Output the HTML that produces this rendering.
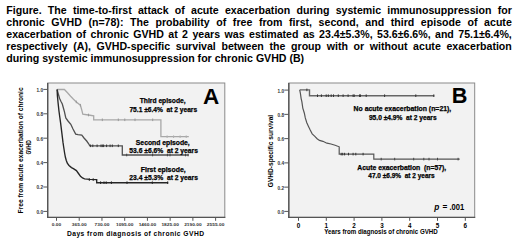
<!DOCTYPE html>
<html><head><meta charset="utf-8"><style>
html,body{margin:0;padding:0;background:#fff;}
body{width:520px;height:245px;position:relative;overflow:hidden;font-family:'Liberation Sans',sans-serif;color:#000;}
svg text{font-family:'Liberation Sans',sans-serif;}
.hv{stroke:#000;stroke-width:0.25px;}
</style></head><body>
<div style="position:absolute;left:6.3px;top:3.60px;width:505.5px;font-size:10.6px;line-height:12.1px;font-weight:bold;text-align:justify;text-align-last:justify;">Figure. The time-to-first attack of acute exacerbation during systemic immunosuppression for</div>
<div style="position:absolute;left:6.3px;top:15.70px;width:505.5px;font-size:10.6px;line-height:12.1px;font-weight:bold;text-align:justify;text-align-last:justify;">chronic GVHD (n=78): The probability of free from first, second, and third episode of acute</div>
<div style="position:absolute;left:6.3px;top:27.80px;width:505.5px;font-size:10.6px;line-height:12.1px;font-weight:bold;text-align:justify;text-align-last:justify;">exacerbation of chronic GVHD at 2 years was estimated as 23.4±5.3%, 53.6±6.6%, and 75.1±6.4%,</div>
<div style="position:absolute;left:6.3px;top:39.90px;width:505.5px;font-size:10.6px;line-height:12.1px;font-weight:bold;text-align:justify;text-align-last:justify;">respectively (A), GVHD-specific survival between the group with or without acute exacerbation</div>
<div style="position:absolute;left:6.3px;top:52.00px;width:505.5px;font-size:10.6px;line-height:12.1px;font-weight:bold;white-space:nowrap;text-align:left;">during systemic immunosuppression for chronic GVHD (B)</div>
<svg width="520" height="245" viewBox="0 0 520 245" style="position:absolute;left:0;top:0" font-family="Liberation Sans, sans-serif">
<rect x="47.7" y="83.0" width="177.10000000000002" height="134.4" fill="#f2f2f2" stroke="#8a8a8a" stroke-width="1"/>
<line x1="47.70" y1="83.00" x2="47.70" y2="217.90" stroke="#555555" stroke-width="1.4"/>
<line x1="47.20" y1="217.40" x2="225.30" y2="217.40" stroke="#555555" stroke-width="1.3"/>
<line x1="43.30" y1="211.40" x2="47.70" y2="211.40" stroke="#555555" stroke-width="1"/>
<text x="43.00" y="213.80" font-size="4.7" font-weight="bold" text-anchor="end" fill="#333" >0.0</text>
<line x1="43.30" y1="187.00" x2="47.70" y2="187.00" stroke="#555555" stroke-width="1"/>
<text x="43.00" y="189.40" font-size="4.7" font-weight="bold" text-anchor="end" fill="#333" >0.2</text>
<line x1="43.30" y1="162.60" x2="47.70" y2="162.60" stroke="#555555" stroke-width="1"/>
<text x="43.00" y="165.00" font-size="4.7" font-weight="bold" text-anchor="end" fill="#333" >0.4</text>
<line x1="43.30" y1="138.20" x2="47.70" y2="138.20" stroke="#555555" stroke-width="1"/>
<text x="43.00" y="140.60" font-size="4.7" font-weight="bold" text-anchor="end" fill="#333" >0.6</text>
<line x1="43.30" y1="113.80" x2="47.70" y2="113.80" stroke="#555555" stroke-width="1"/>
<text x="43.00" y="116.20" font-size="4.7" font-weight="bold" text-anchor="end" fill="#333" >0.8</text>
<line x1="43.30" y1="89.40" x2="47.70" y2="89.40" stroke="#555555" stroke-width="1"/>
<text x="43.00" y="91.80" font-size="4.7" font-weight="bold" text-anchor="end" fill="#333" >1.0</text>
<line x1="56.50" y1="217.40" x2="56.50" y2="220.80" stroke="#555555" stroke-width="1"/>
<text x="56.50" y="226.30" font-size="4.3" font-weight="bold" text-anchor="middle" fill="#333" textLength="9.40" lengthAdjust="spacingAndGlyphs">0.00</text>
<line x1="79.23" y1="217.40" x2="79.23" y2="220.80" stroke="#555555" stroke-width="1"/>
<text x="79.23" y="226.30" font-size="4.3" font-weight="bold" text-anchor="middle" fill="#333" textLength="14.77" lengthAdjust="spacingAndGlyphs">365.00</text>
<line x1="101.96" y1="217.40" x2="101.96" y2="220.80" stroke="#555555" stroke-width="1"/>
<text x="101.96" y="226.30" font-size="4.3" font-weight="bold" text-anchor="middle" fill="#333" textLength="14.77" lengthAdjust="spacingAndGlyphs">730.00</text>
<line x1="124.69" y1="217.40" x2="124.69" y2="220.80" stroke="#555555" stroke-width="1"/>
<text x="124.69" y="226.30" font-size="4.3" font-weight="bold" text-anchor="middle" fill="#333" textLength="17.46" lengthAdjust="spacingAndGlyphs">1095.00</text>
<line x1="147.42" y1="217.40" x2="147.42" y2="220.80" stroke="#555555" stroke-width="1"/>
<text x="147.42" y="226.30" font-size="4.3" font-weight="bold" text-anchor="middle" fill="#333" textLength="17.46" lengthAdjust="spacingAndGlyphs">1460.00</text>
<line x1="170.15" y1="217.40" x2="170.15" y2="220.80" stroke="#555555" stroke-width="1"/>
<text x="170.15" y="226.30" font-size="4.3" font-weight="bold" text-anchor="middle" fill="#333" textLength="17.46" lengthAdjust="spacingAndGlyphs">1825.00</text>
<line x1="192.88" y1="217.40" x2="192.88" y2="220.80" stroke="#555555" stroke-width="1"/>
<text x="192.88" y="226.30" font-size="4.3" font-weight="bold" text-anchor="middle" fill="#333" textLength="17.46" lengthAdjust="spacingAndGlyphs">2190.00</text>
<line x1="215.61" y1="217.40" x2="215.61" y2="220.80" stroke="#555555" stroke-width="1"/>
<text x="215.61" y="226.30" font-size="4.3" font-weight="bold" text-anchor="middle" fill="#333" textLength="17.46" lengthAdjust="spacingAndGlyphs">2555.00</text>
<text transform="translate(22.9,150.4) rotate(-90)" font-size="6.6" font-weight="bold" text-anchor="middle" textLength="126" lengthAdjust="spacingAndGlyphs">Free from acute exacerbation of chronic</text>
<text transform="translate(31.0,147.4) rotate(-90)" font-size="6.6" font-weight="bold" text-anchor="middle" textLength="14.2" lengthAdjust="spacingAndGlyphs">GVHD</text>
<text x="66.90" y="235.80" font-size="6.7" font-weight="bold" text-anchor="start" fill="#000" textLength="137.2" lengthAdjust="spacing">Days from diagnosis of chronic GVHD</text>
<polyline points="57.10,89.50 64.40,89.50 67.50,92.80 70.60,96.20 73.50,99.20 76.30,101.90 80.40,105.20 81.20,108.00 82.00,110.90 82.80,114.20 88.50,115.00 93.70,115.80 93.70,119.80 160.90,119.80 160.90,136.70 188.80,136.70" fill="none" stroke="#a8a8a8" stroke-width="1.3" stroke-linejoin="miter"/>
<polyline points="57.10,89.50 58.30,94.00 59.60,98.50 61.00,101.50 62.30,104.00 63.40,108.00 64.40,111.70 65.80,118.00 68.00,121.00 70.80,124.30 73.00,129.00 75.70,134.10 78.00,134.60 81.80,135.20 84.00,138.00 86.70,141.00 88.50,143.50 89.80,145.80 122.30,145.80 122.30,155.00 188.60,155.00" fill="none" stroke="#505050" stroke-width="1.3" stroke-linejoin="miter"/>
<polyline points="57.10,89.50 57.40,95.80 58.10,103.00 58.90,110.50 59.70,116.50 60.60,122.80 61.80,132.60 63.00,142.40 63.60,146.50 64.60,153.00 65.40,157.30 66.30,160.50 67.30,163.20 69.00,165.50 71.50,167.60 73.40,168.60 76.40,170.60 78.50,173.50 80.50,176.30 82.50,178.00 84.60,178.80 89.70,179.40 96.70,179.60 96.70,182.70 168.20,182.70" fill="none" stroke="#262626" stroke-width="1.35" stroke-linejoin="miter"/>
<line x1="89.30" y1="178.30" x2="89.30" y2="180.90" stroke="#222222" stroke-width="1.0"/>
<line x1="93.20" y1="178.30" x2="93.20" y2="180.90" stroke="#222222" stroke-width="1.0"/>
<line x1="100.60" y1="181.40" x2="100.60" y2="184.00" stroke="#222222" stroke-width="1.0"/>
<line x1="104.00" y1="181.40" x2="104.00" y2="184.00" stroke="#222222" stroke-width="1.0"/>
<line x1="106.20" y1="181.40" x2="106.20" y2="184.00" stroke="#222222" stroke-width="1.0"/>
<line x1="111.40" y1="181.40" x2="111.40" y2="184.00" stroke="#222222" stroke-width="1.0"/>
<line x1="127.00" y1="181.40" x2="127.00" y2="184.00" stroke="#222222" stroke-width="1.0"/>
<line x1="152.30" y1="181.40" x2="152.30" y2="184.00" stroke="#222222" stroke-width="1.0"/>
<line x1="167.70" y1="181.40" x2="167.70" y2="184.00" stroke="#222222" stroke-width="1.0"/>
<line x1="90.60" y1="144.50" x2="90.60" y2="147.10" stroke="#333333" stroke-width="1.0"/>
<line x1="92.80" y1="144.50" x2="92.80" y2="147.10" stroke="#333333" stroke-width="1.0"/>
<line x1="97.10" y1="144.50" x2="97.10" y2="147.10" stroke="#333333" stroke-width="1.0"/>
<line x1="101.00" y1="144.50" x2="101.00" y2="147.10" stroke="#333333" stroke-width="1.0"/>
<line x1="102.30" y1="144.50" x2="102.30" y2="147.10" stroke="#333333" stroke-width="1.0"/>
<line x1="103.60" y1="144.50" x2="103.60" y2="147.10" stroke="#333333" stroke-width="1.0"/>
<line x1="106.60" y1="144.50" x2="106.60" y2="147.10" stroke="#333333" stroke-width="1.0"/>
<line x1="110.10" y1="144.50" x2="110.10" y2="147.10" stroke="#333333" stroke-width="1.0"/>
<line x1="112.30" y1="144.50" x2="112.30" y2="147.10" stroke="#333333" stroke-width="1.0"/>
<line x1="118.30" y1="144.50" x2="118.30" y2="147.10" stroke="#333333" stroke-width="1.0"/>
<line x1="126.70" y1="153.70" x2="126.70" y2="156.30" stroke="#444444" stroke-width="1.0"/>
<line x1="152.60" y1="153.70" x2="152.60" y2="156.30" stroke="#444444" stroke-width="1.0"/>
<line x1="167.40" y1="153.70" x2="167.40" y2="156.30" stroke="#444444" stroke-width="1.0"/>
<line x1="170.00" y1="153.70" x2="170.00" y2="156.30" stroke="#444444" stroke-width="1.0"/>
<line x1="185.50" y1="153.70" x2="185.50" y2="156.30" stroke="#444444" stroke-width="1.0"/>
<line x1="188.10" y1="153.70" x2="188.10" y2="156.30" stroke="#444444" stroke-width="1.0"/>
<line x1="102.30" y1="118.50" x2="102.30" y2="121.10" stroke="#999999" stroke-width="1.0"/>
<line x1="118.30" y1="118.50" x2="118.30" y2="121.10" stroke="#999999" stroke-width="1.0"/>
<line x1="124.80" y1="118.50" x2="124.80" y2="121.10" stroke="#999999" stroke-width="1.0"/>
<line x1="135.00" y1="118.50" x2="135.00" y2="121.10" stroke="#999999" stroke-width="1.0"/>
<line x1="152.70" y1="118.50" x2="152.70" y2="121.10" stroke="#999999" stroke-width="1.0"/>
<line x1="76.30" y1="100.60" x2="76.30" y2="103.20" stroke="#999999" stroke-width="1.0"/>
<line x1="80.40" y1="103.90" x2="80.40" y2="106.50" stroke="#999999" stroke-width="1.0"/>
<line x1="88.50" y1="113.70" x2="88.50" y2="116.30" stroke="#999999" stroke-width="1.0"/>
<line x1="167.10" y1="135.40" x2="167.10" y2="138.00" stroke="#b0b0b0" stroke-width="1.0"/>
<line x1="173.60" y1="135.40" x2="173.60" y2="138.00" stroke="#b0b0b0" stroke-width="1.0"/>
<line x1="180.10" y1="135.40" x2="180.10" y2="138.00" stroke="#b0b0b0" stroke-width="1.0"/>
<line x1="186.20" y1="135.40" x2="186.20" y2="138.00" stroke="#b0b0b0" stroke-width="1.0"/>
<text class="hv" x="162.70" y="103.30" font-size="7" font-weight="bold" text-anchor="middle" fill="#000" textLength="46" lengthAdjust="spacingAndGlyphs">Third episode,</text>
<text class="hv" x="163.30" y="111.50" font-size="7" font-weight="bold" text-anchor="middle" fill="#000" textLength="67.7" lengthAdjust="spacingAndGlyphs">75.1 ±6.4%  at 2 years</text>
<text class="hv" x="162.80" y="144.70" font-size="7" font-weight="bold" text-anchor="middle" fill="#000" textLength="53.9" lengthAdjust="spacingAndGlyphs">Second episode,</text>
<text class="hv" x="163.60" y="152.80" font-size="7" font-weight="bold" text-anchor="middle" fill="#000" textLength="68.6" lengthAdjust="spacingAndGlyphs">53.6 ±6.6%  at 2 years</text>
<text class="hv" x="163.20" y="171.60" font-size="7" font-weight="bold" text-anchor="middle" fill="#000" textLength="44.9" lengthAdjust="spacingAndGlyphs">First episode,</text>
<text class="hv" x="163.60" y="179.70" font-size="7" font-weight="bold" text-anchor="middle" fill="#000" textLength="68.6" lengthAdjust="spacingAndGlyphs">23.4 ±5.3%  at 2 years</text>
<text x="211.00" y="103.70" font-size="22.5" font-weight="bold" text-anchor="middle" fill="#000" >A</text>
<rect x="288.8" y="83.0" width="185.89999999999998" height="134.4" fill="#f2f2f2" stroke="#8a8a8a" stroke-width="1"/>
<line x1="288.80" y1="83.00" x2="288.80" y2="217.90" stroke="#555555" stroke-width="1.4"/>
<line x1="288.30" y1="217.40" x2="475.20" y2="217.40" stroke="#555555" stroke-width="1.3"/>
<line x1="284.30" y1="211.40" x2="288.80" y2="211.40" stroke="#555555" stroke-width="1"/>
<text x="284.10" y="213.90" font-size="4.7" font-weight="bold" text-anchor="end" fill="#333" >0.0</text>
<line x1="284.30" y1="187.14" x2="288.80" y2="187.14" stroke="#555555" stroke-width="1"/>
<text x="284.10" y="189.64" font-size="4.7" font-weight="bold" text-anchor="end" fill="#333" >0.2</text>
<line x1="284.30" y1="162.88" x2="288.80" y2="162.88" stroke="#555555" stroke-width="1"/>
<text x="284.10" y="165.38" font-size="4.7" font-weight="bold" text-anchor="end" fill="#333" >0.4</text>
<line x1="284.30" y1="138.62" x2="288.80" y2="138.62" stroke="#555555" stroke-width="1"/>
<text x="284.10" y="141.12" font-size="4.7" font-weight="bold" text-anchor="end" fill="#333" >0.6</text>
<line x1="284.30" y1="114.36" x2="288.80" y2="114.36" stroke="#555555" stroke-width="1"/>
<text x="284.10" y="116.86" font-size="4.7" font-weight="bold" text-anchor="end" fill="#333" >0.8</text>
<line x1="284.30" y1="90.10" x2="288.80" y2="90.10" stroke="#555555" stroke-width="1"/>
<text x="284.10" y="92.60" font-size="4.7" font-weight="bold" text-anchor="end" fill="#333" >1.0</text>
<line x1="298.50" y1="217.40" x2="298.50" y2="220.80" stroke="#555555" stroke-width="1"/>
<text x="298.50" y="228.00" font-size="6.3" font-weight="bold" text-anchor="middle" fill="#000" >0</text>
<line x1="326.30" y1="217.40" x2="326.30" y2="220.80" stroke="#555555" stroke-width="1"/>
<text x="326.30" y="228.00" font-size="6.3" font-weight="bold" text-anchor="middle" fill="#000" >1</text>
<line x1="354.10" y1="217.40" x2="354.10" y2="220.80" stroke="#555555" stroke-width="1"/>
<text x="354.10" y="228.00" font-size="6.3" font-weight="bold" text-anchor="middle" fill="#000" >2</text>
<line x1="381.90" y1="217.40" x2="381.90" y2="220.80" stroke="#555555" stroke-width="1"/>
<text x="381.90" y="228.00" font-size="6.3" font-weight="bold" text-anchor="middle" fill="#000" >3</text>
<line x1="409.70" y1="217.40" x2="409.70" y2="220.80" stroke="#555555" stroke-width="1"/>
<text x="409.70" y="228.00" font-size="6.3" font-weight="bold" text-anchor="middle" fill="#000" >4</text>
<line x1="437.50" y1="217.40" x2="437.50" y2="220.80" stroke="#555555" stroke-width="1"/>
<text x="437.50" y="228.00" font-size="6.3" font-weight="bold" text-anchor="middle" fill="#000" >5</text>
<line x1="465.30" y1="217.40" x2="465.30" y2="220.80" stroke="#555555" stroke-width="1"/>
<text x="465.30" y="228.00" font-size="6.3" font-weight="bold" text-anchor="middle" fill="#000" >6</text>
<text transform="translate(272.7,151) rotate(-90)" font-size="7.6" font-weight="bold" text-anchor="middle" textLength="72.4" lengthAdjust="spacingAndGlyphs">GVHD-specific survival</text>
<text x="324.30" y="233.50" font-size="6.5" font-weight="bold" text-anchor="start" fill="#000" textLength="113.4" lengthAdjust="spacingAndGlyphs">Years from diagnosis of chronic GVHD</text>
<polyline points="299.70,89.90 309.50,89.90 309.50,95.70 434.30,95.70" fill="none" stroke="#666666" stroke-width="1.4" stroke-linejoin="miter"/>
<polyline points="299.70,89.90 300.40,93.40 301.10,98.30 301.90,101.90 302.80,108.10 304.30,113.00 305.30,117.90 306.80,122.80 308.50,126.40 310.20,130.10 312.20,133.80 314.60,136.20 317.10,138.70 319.50,140.40 322.90,141.30 326.90,143.20 331.00,144.00 335.10,145.30 339.20,146.80 339.20,154.10 373.80,154.10 373.80,159.10 459.70,159.10" fill="none" stroke="#555555" stroke-width="1.2" stroke-linejoin="miter"/>
<line x1="306.90" y1="88.60" x2="306.90" y2="91.20" stroke="#333333" stroke-width="1.0"/>
<line x1="317.50" y1="94.40" x2="317.50" y2="97.00" stroke="#333333" stroke-width="1.0"/>
<line x1="321.40" y1="94.40" x2="321.40" y2="97.00" stroke="#333333" stroke-width="1.0"/>
<line x1="326.20" y1="94.40" x2="326.20" y2="97.00" stroke="#333333" stroke-width="1.0"/>
<line x1="328.30" y1="94.40" x2="328.30" y2="97.00" stroke="#333333" stroke-width="1.0"/>
<line x1="331.20" y1="94.40" x2="331.20" y2="97.00" stroke="#333333" stroke-width="1.0"/>
<line x1="333.50" y1="94.40" x2="333.50" y2="97.00" stroke="#333333" stroke-width="1.0"/>
<line x1="338.30" y1="94.40" x2="338.30" y2="97.00" stroke="#333333" stroke-width="1.0"/>
<line x1="343.10" y1="94.40" x2="343.10" y2="97.00" stroke="#333333" stroke-width="1.0"/>
<line x1="348.10" y1="94.40" x2="348.10" y2="97.00" stroke="#333333" stroke-width="1.0"/>
<line x1="353.10" y1="94.40" x2="353.10" y2="97.00" stroke="#333333" stroke-width="1.0"/>
<line x1="354.20" y1="94.40" x2="354.20" y2="97.00" stroke="#333333" stroke-width="1.0"/>
<line x1="359.60" y1="94.40" x2="359.60" y2="97.00" stroke="#333333" stroke-width="1.0"/>
<line x1="360.40" y1="94.40" x2="360.40" y2="97.00" stroke="#333333" stroke-width="1.0"/>
<line x1="366.20" y1="94.40" x2="366.20" y2="97.00" stroke="#333333" stroke-width="1.0"/>
<line x1="384.60" y1="94.40" x2="384.60" y2="97.00" stroke="#333333" stroke-width="1.0"/>
<line x1="415.80" y1="94.40" x2="415.80" y2="97.00" stroke="#333333" stroke-width="1.0"/>
<line x1="433.80" y1="94.40" x2="433.80" y2="97.00" stroke="#333333" stroke-width="1.0"/>
<line x1="341.20" y1="152.80" x2="341.20" y2="155.40" stroke="#333333" stroke-width="1.0"/>
<line x1="342.70" y1="152.80" x2="342.70" y2="155.40" stroke="#333333" stroke-width="1.0"/>
<line x1="344.60" y1="152.80" x2="344.60" y2="155.40" stroke="#333333" stroke-width="1.0"/>
<line x1="348.50" y1="152.80" x2="348.50" y2="155.40" stroke="#333333" stroke-width="1.0"/>
<line x1="353.10" y1="152.80" x2="353.10" y2="155.40" stroke="#333333" stroke-width="1.0"/>
<line x1="355.80" y1="152.80" x2="355.80" y2="155.40" stroke="#333333" stroke-width="1.0"/>
<line x1="363.10" y1="152.80" x2="363.10" y2="155.40" stroke="#333333" stroke-width="1.0"/>
<line x1="381.20" y1="157.80" x2="381.20" y2="160.40" stroke="#444444" stroke-width="1.0"/>
<line x1="394.70" y1="157.80" x2="394.70" y2="160.40" stroke="#444444" stroke-width="1.0"/>
<line x1="413.70" y1="157.80" x2="413.70" y2="160.40" stroke="#444444" stroke-width="1.0"/>
<line x1="423.80" y1="157.80" x2="423.80" y2="160.40" stroke="#444444" stroke-width="1.0"/>
<line x1="429.00" y1="157.80" x2="429.00" y2="160.40" stroke="#444444" stroke-width="1.0"/>
<line x1="437.50" y1="157.80" x2="437.50" y2="160.40" stroke="#444444" stroke-width="1.0"/>
<line x1="458.10" y1="157.80" x2="458.10" y2="160.40" stroke="#444444" stroke-width="1.0"/>
<text class="hv" x="402.40" y="111.10" font-size="7" font-weight="bold" text-anchor="middle" fill="#000" textLength="97.7" lengthAdjust="spacingAndGlyphs">No acute exacerbation (n=21),</text>
<text class="hv" x="402.80" y="120.10" font-size="7" font-weight="bold" text-anchor="middle" fill="#000" textLength="67.7" lengthAdjust="spacingAndGlyphs">95.0 ±4.9%  at 2 years</text>
<text class="hv" x="401.80" y="169.60" font-size="7" font-weight="bold" text-anchor="middle" fill="#000" textLength="88.9" lengthAdjust="spacingAndGlyphs">Acute exacerbation  (n=57),</text>
<text class="hv" x="401.50" y="177.60" font-size="7" font-weight="bold" text-anchor="middle" fill="#000" textLength="66.3" lengthAdjust="spacingAndGlyphs">47.0 ±6.9%  at 2 years</text>
<text x="459.50" y="103.20" font-size="21.7" font-weight="bold" text-anchor="middle" fill="#000" >B</text>
<text x="434.2" y="210.3" font-size="8.3" font-weight="bold" font-style="italic">p</text>
<text x="442.4" y="210.3" font-size="8.3" font-weight="bold">=</text>
<text x="449.4" y="210.3" font-size="8.3" font-weight="bold" textLength="14.8" lengthAdjust="spacingAndGlyphs">.001</text>
</svg>
</body></html>
